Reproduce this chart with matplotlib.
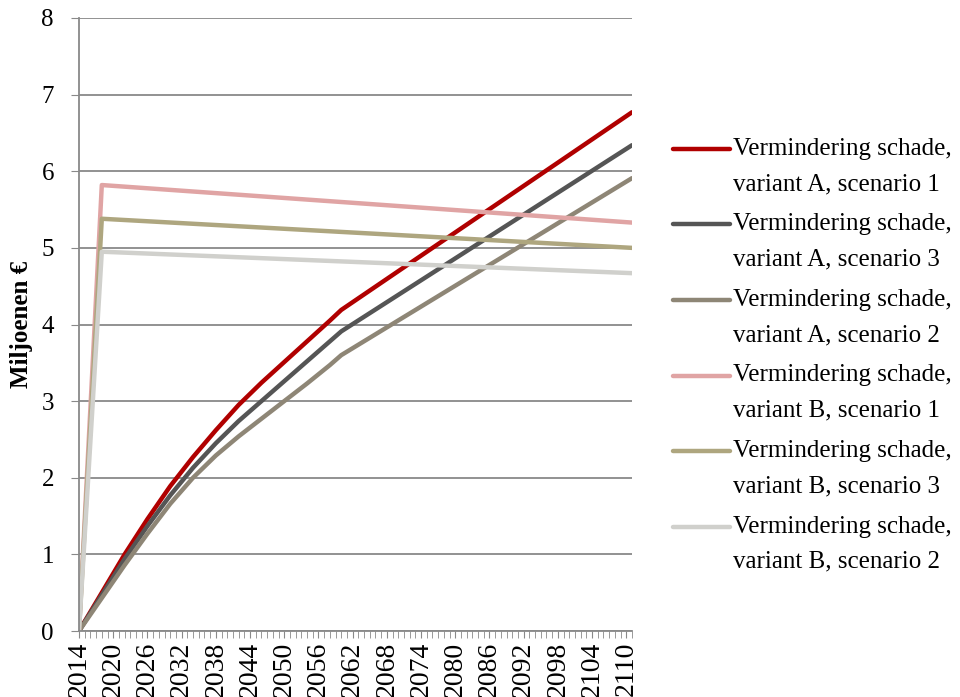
import matplotlib
matplotlib.use("Agg")
import matplotlib.pyplot as plt
from matplotlib.lines import Line2D

plt.rcParams['font.family'] = ['Liberation Serif', 'DejaVu Serif']

# years with read-off values (straight segments between them)
years_a = [2014, 2018, 2022, 2026, 2030, 2034, 2038, 2042, 2046, 2050, 2054, 2058, 2060, 2111]
a_sc1 = [0, 0.50, 1.00, 1.46, 1.89, 2.27, 2.62, 2.95, 3.24, 3.51, 3.78, 4.05, 4.19, 6.77]
a_sc3 = [0, 0.47, 0.94, 1.37, 1.77, 2.13, 2.45, 2.74, 3.00, 3.26, 3.52, 3.78, 3.91, 6.34]
a_sc2 = [0, 0.43, 0.86, 1.27, 1.66, 2.00, 2.29, 2.54, 2.77, 3.00, 3.23, 3.47, 3.60, 5.91]

years_b = [2014, 2018, 2111]
b_sc1 = [0, 5.82, 5.33]
b_sc3 = [0, 5.38, 5.00]
b_sc2 = [0, 4.95, 4.67]

labels = [
    ("Vermindering schade,", "variant A, scenario 1"),
    ("Vermindering schade,", "variant A, scenario 3"),
    ("Vermindering schade,", "variant A, scenario 2"),
    ("Vermindering schade,", "variant B, scenario 1"),
    ("Vermindering schade,", "variant B, scenario 3"),
    ("Vermindering schade,", "variant B, scenario 2"),
]
colors = ['#B00000', '#555555', '#8E8676', '#E0A4A4', '#AEA67F', '#D0D0CC']

W, H = 960, 697
fig = plt.figure(figsize=(W / 100, H / 100), dpi=100)
ax = fig.add_axes([79 / W, 1 - 631 / H, (632 - 79) / W, (631 - 18) / H])

series = [(years_a, a_sc1), (years_a, a_sc3), (years_a, a_sc2),
          (years_b, b_sc1), (years_b, b_sc3), (years_b, b_sc2)]
for (xs, ys), c in zip(series, colors):
    ax.plot(xs, ys, color=c, lw=3.2, solid_capstyle='round', solid_joinstyle='round')

ax.set_xlim(2014, 2111)
ax.set_ylim(0, 8)
ax.set_yticks(range(0, 9))
ax.set_xticks(range(2014, 2111, 6))
ax.set_xticks(range(2014, 2112), minor=True)
ax.tick_params(axis='x', which='major', labelrotation=90, length=5, color='#898989', labelsize=20, pad=3)
ax.tick_params(axis='x', which='minor', length=5, color='#898989')
ax.tick_params(axis='y', length=6, color='#898989', labelsize=18, pad=12)
ax.grid(axis='y', color='#898989', lw=1.3)
ax.set_axisbelow(True)
for s in ['top', 'right']:
    ax.spines[s].set_visible(False)
for s in ['left', 'bottom']:
    ax.spines[s].set_color('#898989')
    ax.spines[s].set_linewidth(1.3)

ax.set_ylabel("Miljoenen €", fontsize=18, fontweight='bold', labelpad=6)

# legend drawn by hand: handle level with the first text line
for i, ((l1, l2), c) in enumerate(zip(labels, colors)):
    yc = 149 + i * 75.5
    fig.add_artist(Line2D([673 / W, 730 / W], [1 - yc / H, 1 - yc / H],
                          transform=fig.transFigure, color=c, lw=3.2,
                          solid_capstyle='round'))
    fig.text(733 / W, 1 - yc / H, l1, fontsize=18, va='center', ha='left')
    fig.text(733 / W, 1 - (yc + 35) / H, l2, fontsize=18, va='center', ha='left')

fig.savefig("out.png", dpi=100)
